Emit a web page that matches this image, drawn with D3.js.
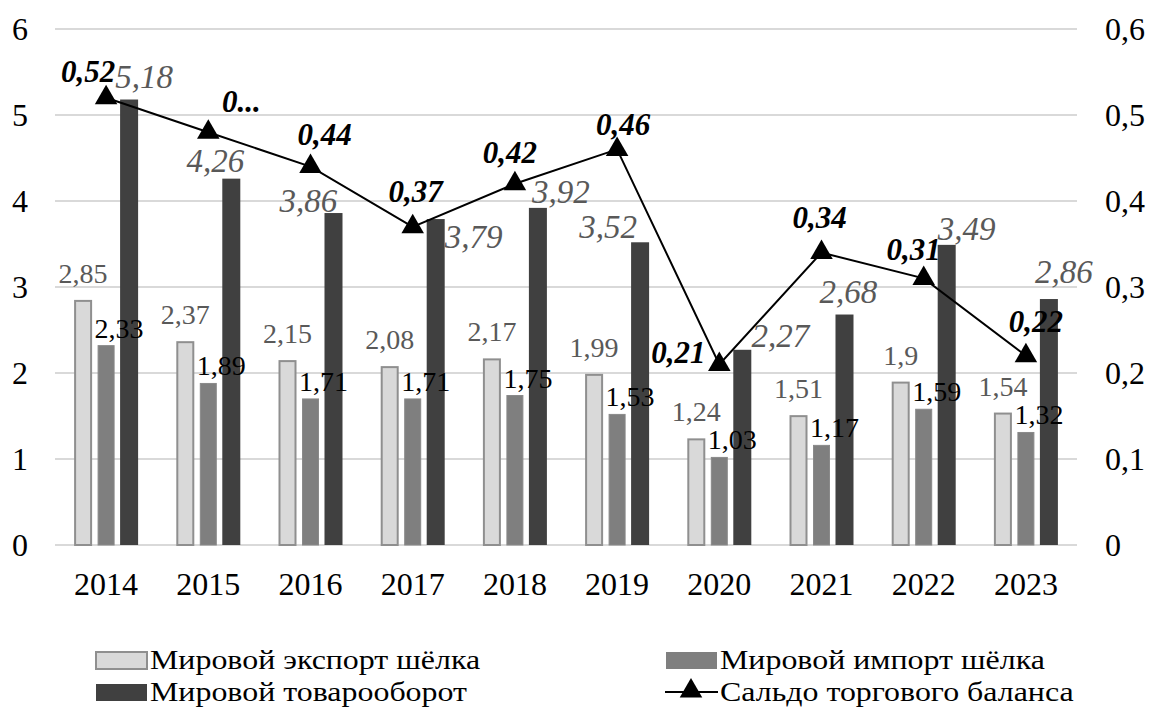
<!DOCTYPE html>
<html><head><meta charset="utf-8">
<script src="https://cdn.jsdelivr.net/npm/d3@7"></script>
<style>html,body{margin:0;padding:0;background:#fff;}svg{display:block;}</style>
</head><body>
<svg id="chart" width="1149" height="708"></svg>
<script>
// ---- data ----
const years = ["2014","2015","2016","2017","2018","2019","2020","2021","2022","2023"];
const exportSilk = [2.85, 2.37, 2.15, 2.08, 2.17, 1.99, 1.24, 1.51, 1.9, 1.54];
const importSilk = [2.33, 1.89, 1.71, 1.71, 1.75, 1.53, 1.03, 1.17, 1.59, 1.32];
const turnover   = [5.18, 4.26, 3.86, 3.79, 3.92, 3.52, 2.27, 2.68, 3.49, 2.86];
const balance    = [0.52, 0.48, 0.44, 0.37, 0.42, 0.46, 0.21, 0.34, 0.31, 0.22];
const balanceLabels = ["0,52","0...","0,44","0,37","0,42","0,46","0,21","0,34","0,31","0,22"];
const leftTicks  = [0, 1, 2, 3, 4, 5, 6];
const rightTicks = [0, 0.1, 0.2, 0.3, 0.4, 0.5, 0.6];
const seriesNames = ["Мировой экспорт шёлка", "Мировой импорт шёлка", "Мировой товарооборот", "Сальдо торгового баланса"];

// ---- label placement (manual, as in the source) ----
const turnoverLabelDx = [15, -16, -25, 38, 23, -32, 38, 4, 20, 15];
const turnoverLabelDy = [-12, -7, -1, 29, -5, -4, -3, -12, -5, -16];
const balanceLabelDx  = [-18, 33, 14, 3, -5, 6, -41, -2, -10, 10];
const balanceLabelDy  = [-16, -20, -22, -25, -21, -14, -1, -25, -18, -24];

const fmt = v => String(v).replace(".", ",");
const svg = d3.select("#chart");
const font = "'Liberation Serif','Times New Roman',serif";

const x = d3.scaleBand().domain(years).range([55, 1077]).padding(0);
const y = d3.scaleLinear().domain([0, 6]).range([545, 29]);
const y2 = d3.scaleLinear().domain([0, 0.6]).range([545, 29]);
const inner = d3.scaleBand().domain([0,1,2]).range([0, 64]).paddingInner(0.217).paddingOuter(0);
const cx = (i) => x(years[i]) + x.bandwidth()/2;
const bx = (i, s) => cx(i) - 32 + inner(s);

// grid
svg.append("g").selectAll("line").data(leftTicks).join("line")
  .attr("x1", 55).attr("x2", 1077)
  .attr("y1", d => y(d)).attr("y2", d => y(d))
  .attr("stroke", "#d9d9d9").attr("stroke-width", 2);

// axes
const yAxisL = d3.axisLeft(y).tickValues(leftTicks).tickSize(0).tickPadding(0).tickFormat(d => fmt(d));
const gL = svg.append("g").attr("transform", "translate(28,0)").call(yAxisL);
const yAxisR = d3.axisRight(y2).tickValues(rightTicks).tickSize(0).tickPadding(0).tickFormat(d => fmt(d));
const gR = svg.append("g").attr("transform", "translate(1105,0)").call(yAxisR);
const xAxis = d3.axisBottom(x).tickSize(0).tickPadding(0);
const gX = svg.append("g").attr("transform", "translate(0,572)").call(xAxis);
[gL, gR, gX].forEach(g => {
  g.select(".domain").remove();
  g.selectAll("text").attr("font-family", font).attr("font-size", 32).attr("fill", "#000");
});
gX.selectAll("text").attr("dy", "0.71em");

// bars
const seriesVals = [exportSilk, importSilk, turnover];
const fills = ["#d9d9d9", "#7f7f7f", "#404040"];
const strokes = ["#8f8f8f", "#8a8a8a", "none"];
seriesVals.forEach((vals, s) => {
  svg.append("g").selectAll("rect").data(vals).join("rect")
    .attr("x", (d, i) => bx(i, s) + (s < 2 ? 1 : 0))
    .attr("width", inner.bandwidth() - (s < 2 ? 2 : 0))
    .attr("y", d => y(d) + (s < 2 ? 1 : 0))
    .attr("height", d => y(0) - y(d) - (s < 2 ? 1 : 0))
    .attr("fill", fills[s])
    .attr("stroke", strokes[s]).attr("stroke-width", s === 0 ? 2 : 1);
});

// export labels
svg.append("g").selectAll("text").data(exportSilk).join("text")
  .attr("x", (d, i) => bx(i, 0) + inner.bandwidth()/2)
  .attr("y", d => y(d) - 17)
  .attr("text-anchor", "middle")
  .attr("font-family", font).attr("font-size", 28).attr("fill", "#595959")
  .text(d => fmt(d));
// import labels
svg.append("g").selectAll("text").data(importSilk).join("text")
  .attr("x", (d, i) => bx(i, 1) + inner.bandwidth()/2 + 13)
  .attr("y", d => y(d) - 7)
  .attr("text-anchor", "middle")
  .attr("font-family", font).attr("font-size", 28).attr("fill", "#000")
  .text(d => fmt(d));
// turnover labels
svg.append("g").selectAll("text").data(turnover).join("text")
  .attr("x", (d, i) => bx(i, 2) + inner.bandwidth()/2 + turnoverLabelDx[i])
  .attr("y", (d, i) => y(d) + turnoverLabelDy[i])
  .attr("text-anchor", "middle")
  .attr("font-family", font).attr("font-size", 33).attr("font-style", "italic").attr("fill", "#595959")
  .text(d => fmt(d));

// balance line
const line = d3.line().x((d, i) => cx(i)).y(d => y2(d));
svg.append("path").datum(balance).attr("d", line)
  .attr("fill", "none").attr("stroke", "#000").attr("stroke-width", 2);
const tri = d3.symbol().type(d3.symbolTriangle).size(220);
svg.append("g").selectAll("path").data(balance).join("path")
  .attr("transform", (d, i) => `translate(${cx(i)},${y2(d)})`)
  .attr("d", tri).attr("fill", "#000");
svg.append("g").selectAll("text").data(balance).join("text")
  .attr("x", (d, i) => cx(i) + balanceLabelDx[i])
  .attr("y", (d, i) => y2(d) + balanceLabelDy[i])
  .attr("text-anchor", "middle")
  .attr("font-family", font).attr("font-size", 31).attr("font-weight", "bold").attr("font-style", "italic").attr("fill", "#000")
  .text((d, i) => balanceLabels[i]);

// legend
const leg = svg.append("g").attr("font-family", font).attr("font-size", 28);
const legItems = [
  {x: 95, y: 651, type: "rect", fill: fills[0], stroke: strokes[0], name: seriesNames[0]},
  {x: 665, y: 651, type: "rect", fill: fills[1], stroke: "none", name: seriesNames[1]},
  {x: 95, y: 683, type: "rect", fill: fills[2], stroke: "none", name: seriesNames[2]},
  {x: 665, y: 683, type: "line", name: seriesNames[3]}
];
legItems.forEach(it => {
  if (it.type === "rect") {
    leg.append("rect").attr("x", it.x + 1).attr("y", it.y + 1).attr("width", 51).attr("height", 17)
      .attr("fill", it.fill).attr("stroke", it.stroke).attr("stroke-width", 2);
  } else {
    leg.append("line").attr("x1", it.x).attr("x2", it.x + 53).attr("y1", it.y + 9).attr("y2", it.y + 9)
      .attr("stroke", "#000").attr("stroke-width", 2);
    leg.append("path").attr("transform", `translate(${it.x + 26},${it.y + 8})`).attr("d", tri).attr("fill", "#000");
  }
  leg.append("text")
    .attr("transform", `translate(${it.x + 55},${it.y + 18}) scale(1.14,1)`)
    .attr("fill", "#000").text(it.name);
});
</script>
</body></html>
